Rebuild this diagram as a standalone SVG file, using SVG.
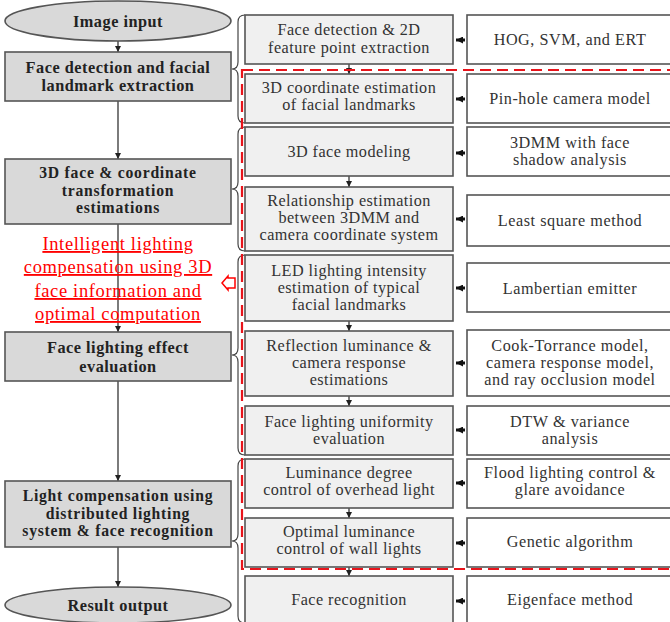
<svg xmlns="http://www.w3.org/2000/svg" width="670" height="622" viewBox="0 0 670 622">
<defs>
<style>
.lb{fill:#d9d9d9;stroke:#555;stroke-width:1.6}
.mb{fill:#f0f0f0;stroke:#555;stroke-width:1.6}
.rb{fill:#fff;stroke:#555;stroke-width:1.6}
.lt{font-family:"Liberation Serif","Times New Roman",serif;font-weight:bold;font-size:16.3px;letter-spacing:0.5px;fill:#222;text-anchor:middle}
.lt3{font-size:15.7px;letter-spacing:0.75px}
.mt{font-family:"Liberation Serif","Times New Roman",serif;font-size:16.2px;letter-spacing:0.45px;fill:#333;text-anchor:middle}
.rt{font-family:"Liberation Serif","Times New Roman",serif;font-size:16.2px;letter-spacing:0.55px;fill:#333;text-anchor:middle}
.red{font-family:"Liberation Serif","Times New Roman",serif;font-size:18.5px;letter-spacing:0.65px;fill:#f00;text-anchor:middle;text-decoration:underline}
.ln{stroke:#444;stroke-width:1.4;fill:none}
.br{stroke:#444;stroke-width:1.2;fill:none}
</style>
<marker id="ah" viewBox="0 0 10 10" refX="10" refY="5" markerWidth="6" markerHeight="6" markerUnits="userSpaceOnUse" orient="auto"><path d="M0,0L10,5L0,10z" fill="#222"/></marker>
<marker id="lh" viewBox="0 0 10 10" refX="10" refY="5" markerWidth="7" markerHeight="7" markerUnits="userSpaceOnUse" orient="auto"><path d="M0,0L10,5L0,10z" fill="#111"/></marker>
</defs>
<rect width="670" height="622" fill="#fff"/>

<g id="connectors">
<line class="ln" x1="118" y1="41" x2="118" y2="52" marker-end="url(#ah)"/>
<line class="ln" x1="118" y1="101" x2="118" y2="159" marker-end="url(#ah)"/>
<line class="ln" x1="118" y1="224" x2="118" y2="332" marker-end="url(#ah)"/>
<line class="ln" x1="118" y1="381" x2="118" y2="481" marker-end="url(#ah)"/>
<line class="ln" x1="118" y1="547" x2="118" y2="587" marker-end="url(#ah)"/>
<line class="ln" x1="349" y1="64" x2="349" y2="74" marker-end="url(#ah)"/>
<line class="ln" x1="349" y1="176" x2="349" y2="187" marker-end="url(#ah)"/>
<line class="ln" x1="349" y1="321" x2="349" y2="331" marker-end="url(#ah)"/>
<line class="ln" x1="349" y1="396" x2="349" y2="406" marker-end="url(#ah)"/>
<line class="ln" x1="349" y1="508" x2="349" y2="518" marker-end="url(#ah)"/>
<line class="ln" x1="349" y1="567" x2="349" y2="576" marker-end="url(#ah)"/>
<g stroke="#111" stroke-width="3">
<line x1="465" y1="40" x2="456" y2="40" marker-end="url(#lh)"/>
<line x1="465" y1="99" x2="456" y2="99" marker-end="url(#lh)"/>
<line x1="465" y1="153" x2="456" y2="153" marker-end="url(#lh)"/>
<line x1="465" y1="219" x2="456" y2="219" marker-end="url(#lh)"/>
<line x1="465" y1="288" x2="456" y2="288" marker-end="url(#lh)"/>
<line x1="465" y1="363" x2="456" y2="363" marker-end="url(#lh)"/>
<line x1="465" y1="430" x2="456" y2="430" marker-end="url(#lh)"/>
<line x1="465" y1="483" x2="456" y2="483" marker-end="url(#lh)"/>
<line x1="465" y1="543" x2="456" y2="543" marker-end="url(#lh)"/>
<line x1="465" y1="601" x2="456" y2="601" marker-end="url(#lh)"/>
</g>
<path class="br" d="M245,15 Q238,15 238,22 L238,62 Q238,69 232,69 Q238,69 238,76 L238,116 Q238,123 245,123"/>
<path class="br" d="M245,127 Q238,127 238,134 L238,182 Q238,189 232,189 Q238,189 238,196 L238,244 Q238,251 245,251"/>
<path class="br" d="M245,255 Q238,255 238,262 L238,348 Q238,355 232,355 Q238,355 238,362 L238,448 Q238,455 245,455"/>
<path class="br" d="M245,459 Q238,459 238,466 L238,534 Q238,541 232,541 Q238,541 238,548 L238,616 Q238,623 245,623"/>
</g>

<g id="n_image_input"><ellipse cx="118" cy="21" rx="113" ry="20" class="lb"/><text class="lt" x="118" y="27">Image input</text></g>
<g id="n_face_detect"><rect x="5" y="52" width="226" height="49" class="lb"/><text class="lt" x="118" y="73">Face detection and facial</text><text class="lt" x="118" y="91">landmark extraction</text></g>
<g id="n_3d_face"><rect x="5" y="159" width="226" height="65" class="lb"/><text class="lt lt3" x="118" y="178">3D face &amp; coordinate</text><text class="lt lt3" x="118" y="195.5">transformation</text><text class="lt lt3" x="118" y="213">estimations</text></g>
<g id="n_eval"><rect x="5" y="332" width="226" height="49" class="lb"/><text class="lt" x="118" y="353">Face lighting effect</text><text class="lt" x="118" y="372">evaluation</text></g>
<g id="n_light_comp"><rect x="5" y="481" width="226" height="66" class="lb"/><text class="lt lt3" x="118" y="501">Light compensation using</text><text class="lt lt3" x="118" y="518.5">distributed lighting</text><text class="lt lt3" x="118" y="536">system &amp; face recognition</text></g>
<g id="n_result"><ellipse cx="118" cy="605" rx="113" ry="18" class="lb"/><text class="lt" x="118" y="611">Result output</text></g>

<g id="n_red_label">
<text class="red" x="118" y="250">Intelligent lighting</text>
<text class="red" x="118" y="273">compensation using 3D</text>
<text class="red" x="118" y="297">face information and</text>
<text class="red" x="118" y="320">optimal computation</text>
<polygon points="222,283 228,276 228,278 235,278 235,288 228,288 228,290" fill="#fff" stroke="#f00" stroke-width="1.5"/>
</g>

<g id="n_m1"><rect x="245" y="15" width="208" height="49" class="mb"/><text class="mt" x="349" y="35">Face detection &amp; 2D</text><text class="mt" x="349" y="53">feature point extraction</text></g>
<g id="n_m2"><rect x="245" y="74" width="208" height="49" class="mb"/><text class="mt" x="349" y="93">3D coordinate estimation</text><text class="mt" x="349" y="110">of facial landmarks</text></g>
<g id="n_m3"><rect x="245" y="127" width="208" height="49" class="mb"/><text class="mt" x="349" y="157">3D face modeling</text></g>
<g id="n_m4"><rect x="245" y="187" width="208" height="64" class="mb"/><text class="mt" x="349" y="206">Relationship estimation</text><text class="mt" x="349" y="223">between 3DMM and</text><text class="mt" x="349" y="240">camera coordinate system</text></g>
<g id="n_m5"><rect x="245" y="255" width="208" height="66" class="mb"/><text class="mt" x="349" y="276">LED lighting intensity</text><text class="mt" x="349" y="293">estimation of typical</text><text class="mt" x="349" y="310">facial landmarks</text></g>
<g id="n_m6"><rect x="245" y="331" width="208" height="65" class="mb"/><text class="mt" x="349" y="351">Reflection luminance &amp;</text><text class="mt" x="349" y="368">camera response</text><text class="mt" x="349" y="385">estimations</text></g>
<g id="n_m7"><rect x="245" y="406" width="208" height="49" class="mb"/><text class="mt" x="349" y="427">Face lighting uniformity</text><text class="mt" x="349" y="444">evaluation</text></g>
<g id="n_m8"><rect x="245" y="459" width="208" height="49" class="mb"/><text class="mt" x="349" y="478">Luminance degree</text><text class="mt" x="349" y="495">control of overhead light</text></g>
<g id="n_m9"><rect x="245" y="518" width="208" height="49" class="mb"/><text class="mt" x="349" y="537">Optimal luminance</text><text class="mt" x="349" y="554">control of wall lights</text></g>
<g id="n_m10"><rect x="245" y="576" width="208" height="60" class="mb"/><text class="mt" x="349" y="605">Face recognition</text></g>

<g id="n_r1"><rect x="467" y="15" width="210" height="49" class="rb"/><text class="rt" x="570" y="45">HOG, SVM, and ERT</text></g>
<g id="n_r2"><rect x="467" y="74" width="210" height="49" class="rb"/><text class="rt" x="570" y="104">Pin-hole camera model</text></g>
<g id="n_r3"><rect x="467" y="127" width="210" height="49" class="rb"/><text class="rt" x="570" y="148">3DMM with face</text><text class="rt" x="570" y="165">shadow analysis</text></g>
<g id="n_r4"><rect x="467" y="195" width="210" height="51" class="rb"/><text class="rt" x="570" y="226">Least square method</text></g>
<g id="n_r5"><rect x="467" y="263" width="210" height="49" class="rb"/><text class="rt" x="570" y="294">Lambertian emitter</text></g>
<g id="n_r6"><rect x="467" y="330" width="210" height="66" class="rb"/><text class="rt" x="570" y="351">Cook-Torrance model,</text><text class="rt" x="570" y="368">camera response model,</text><text class="rt" x="570" y="385">and ray occlusion model</text></g>
<g id="n_r7"><rect x="467" y="406" width="210" height="49" class="rb"/><text class="rt" x="570" y="427">DTW &amp; variance</text><text class="rt" x="570" y="444">analysis</text></g>
<g id="n_r8"><rect x="467" y="459" width="210" height="49" class="rb"/><text class="rt" x="570" y="478">Flood lighting control &amp;</text><text class="rt" x="570" y="495">glare avoidance</text></g>
<g id="n_r9"><rect x="467" y="518" width="210" height="49" class="rb"/><text class="rt" x="570" y="547">Genetic algorithm</text></g>
<g id="n_r10"><rect x="467" y="576" width="210" height="60" class="rb"/><text class="rt" x="570" y="605">Eigenface method</text></g>

<g id="n_dashed_region"><rect x="242" y="70" width="440" height="499" fill="none" stroke="#e8141b" stroke-width="2.2" stroke-dasharray="11,6"/></g>
</svg>
